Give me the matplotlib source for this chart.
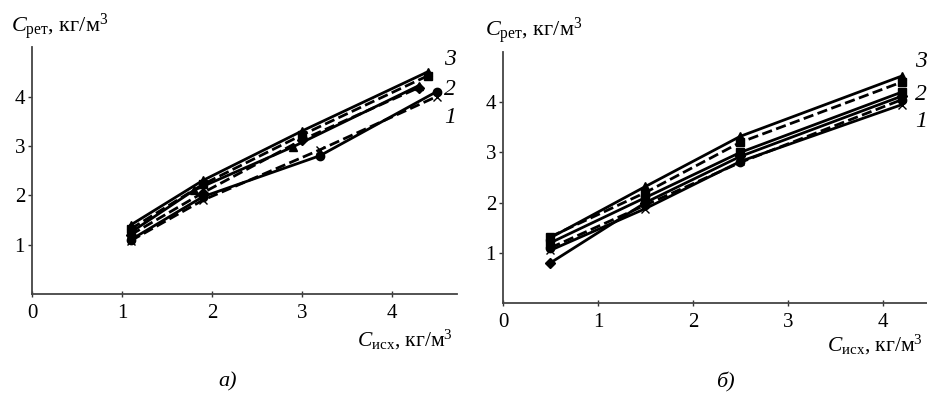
import matplotlib
matplotlib.use("Agg")
import matplotlib.pyplot as plt

plt.rcParams['font.family'] = ['Liberation Serif', 'DejaVu Serif']
plt.rcParams['mathtext.fontset'] = 'custom'
plt.rcParams['mathtext.rm'] = 'Liberation Serif'
plt.rcParams['mathtext.it'] = 'Liberation Serif:italic'

# ---- data, panel a ----
a_x1 = [1.1, 1.9, 3.0, 4.4]
a_y1 = [1.40, 2.30, 3.30, 4.50]
a_x2 = [1.1, 1.9, 3.0, 4.4]
a_y2 = [1.32, 2.22, 3.22, 4.42]
a_x3 = [1.1, 1.8, 2.9, 4.3]
a_y3 = [1.25, 2.10, 2.98, 4.22]
a_x4 = [1.1, 1.9, 3.0, 4.3]
a_y4 = [1.20, 2.05, 3.12, 4.18]
a_x5 = [1.1, 1.9, 3.2, 4.5]
a_y5 = [1.10, 1.97, 2.80, 4.10]
a_x6 = [1.1, 1.9, 3.2, 4.5]
a_y6 = [1.08, 1.90, 2.92, 4.00]

# ---- data, panel b ----
b_x = [0.5, 1.5, 2.5, 4.2]
b_y1 = [1.30, 2.32, 3.32, 4.52]
b_y2 = [1.32, 2.20, 3.20, 4.40]
b_y3 = [1.20, 2.10, 3.00, 4.20]
b_y4 = [0.80, 2.00, 2.92, 4.12]
b_y5 = [1.10, 1.95, 2.80, 4.05]
b_y6 = [1.05, 1.88, 2.82, 3.95]

x_ticks = [0, 1, 2, 3, 4]
y_ticks = [1, 2, 3, 4]
curve_labels = ['3', '2', '1']

fig = plt.figure(figsize=(9.27, 3.93), dpi=100)
ax_a = fig.add_axes([0.0345, 0.252, 0.458, 0.628])
ax_b = fig.add_axes([0.5426, 0.229, 0.457, 0.639])

lw = 2.0
ms = 6

def style(ax, xmax):
    ax.set_xlim(0, xmax)
    ax.set_ylim(0, 5)
    for s in ['top', 'right']:
        ax.spines[s].set_visible(False)
    for s in ['left', 'bottom']:
        ax.spines[s].set_color('#444444')
        ax.spines[s].set_linewidth(1.3)
    ax.set_xticks(x_ticks)
    ax.set_xticklabels([str(t) for t in x_ticks])
    ax.set_yticks(y_ticks)
    ax.set_yticklabels([str(t) for t in y_ticks])
    ax.tick_params(axis='x', direction='inout', length=5, width=1, labelsize=15, pad=5, colors='#333333', labelcolor='black')
    ax.tick_params(axis='y', direction='out', length=3, width=1, labelsize=15, pad=2, colors='#333333', labelcolor='black')
    ax.patch.set_alpha(0)

# panel a
ax_a.plot(a_x1, a_y1, '-', color='black', lw=lw, marker='^', ms=ms)
ax_a.plot(a_x2, a_y2, '--', color='black', lw=lw, marker='s', ms=ms)
ax_a.plot(a_x3, a_y3, '-', color='black', lw=lw, marker='^', ms=ms)
ax_a.plot(a_x4, a_y4, '--', color='black', lw=lw, marker='D', ms=ms - 1)
ax_a.plot(a_x5, a_y5, '-', color='black', lw=lw, marker='o', ms=ms)
ax_a.plot(a_x6, a_y6, '--', color='black', lw=lw, marker='x', ms=ms, mew=1)
style(ax_a, 4.72)

# panel b
ax_b.plot(b_x, b_y1, '-', color='black', lw=lw, marker='^', ms=ms)
ax_b.plot(b_x, b_y2, '--', color='black', lw=lw, marker='s', ms=ms)
ax_b.plot(b_x, b_y3, '-', color='black', lw=lw, marker='s', ms=ms)
ax_b.plot(b_x, b_y4, '-', color='black', lw=lw, marker='D', ms=ms - 1)
ax_b.plot(b_x, b_y5, '--', color='black', lw=lw, marker='o', ms=ms)
ax_b.plot(b_x, b_y6, '-', color='black', lw=lw, marker='x', ms=ms, mew=1)
style(ax_b, 4.46)

# curve labels
for lab, yy in zip(curve_labels, [4.75, 4.14, 3.57]):
    ax_a.text(4.58, yy, lab, fontsize=17, style='italic', ha='left', va='center', clip_on=False)
for lab, yy in zip(curve_labels, [4.8, 4.16, 3.62]):
    ax_b.text(4.34, yy, lab, fontsize=17, style='italic', ha='left', va='center', clip_on=False)

# axis titles
ylab = r'$\mathit{C}_{\mathrm{рет}}$, кг/м$^{3}$'
xlab = r'$\mathit{C}_{\mathrm{исх}}$, кг/м$^{3}$'
fig.text(11 / 927, 1 - 27 / 393, ylab, fontsize=16, ha='left', va='center')
fig.text(485 / 927, 1 - 31 / 393, ylab, fontsize=16, ha='left', va='center')
fig.text(453 / 927, 1 - 340 / 393, xlab, fontsize=15.5, ha='right', va='center')
fig.text(923 / 927, 1 - 345 / 393, xlab, fontsize=15.5, ha='right', va='center')

# panel captions
fig.text(228 / 927, 1 - 382 / 393, 'а)', fontsize=16, style='italic', ha='center', va='center')
fig.text(725 / 927, 1 - 382 / 393, 'б)', fontsize=16, style='italic', ha='center', va='center')

fig.savefig('out.png', dpi=100, facecolor='white')
